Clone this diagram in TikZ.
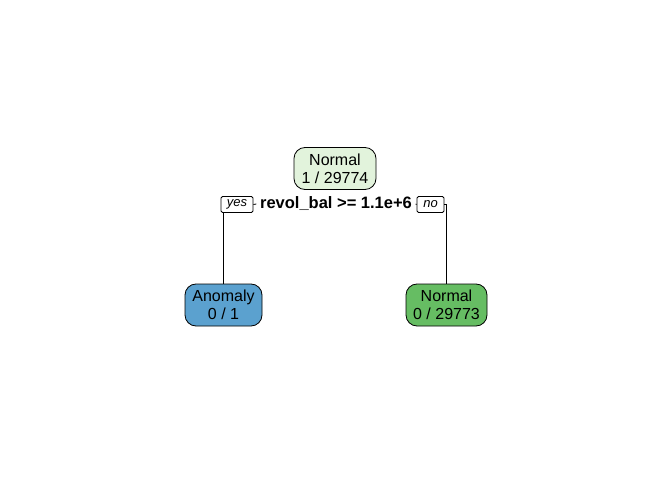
\documentclass[tikz,border=0pt]{standalone}
\usepackage{fontspec}
\setmainfont{Liberation Sans}
\definecolor{rootgreen}{HTML}{E2F3DC}
\definecolor{leafblue}{HTML}{5BA1CF}
\definecolor{leafgreen}{HTML}{66BD63}
\begin{document}
\begin{tikzpicture}[x=1pt,y=1pt,line width=0.8pt,
    leaf/.style={draw,rounded corners=11pt,align=center,inner sep=0pt,
      minimum height=42pt,font=\fontsize{16}{18}\selectfont},
    tag/.style={draw,rounded corners=1.5pt,inner sep=0pt,minimum height=16pt,
      font=\fontsize{13}{14}\selectfont\itshape}]
      \useasboundingbox (0,0) rectangle (672,480);
      \draw
        (335,311.5) node[leaf,fill=rootgreen,minimum width=82pt] (root){Normal\\1 / 29774}
        (336,276) node[font=\fontsize{16.5}{18}\selectfont\bfseries] (split){revol\_bal >= 1.1e+6}
        (237,275.5) node[tag,minimum width=32pt] (yes){yes}
        (430.5,275.5) node[tag,minimum width=27pt] (no){no}
        (223.5,175) node[leaf,fill=leafblue,minimum width=77pt] (anomaly){Anomaly\\0 / 1}
        (446.5,175) node[leaf,fill=leafgreen,minimum width=81pt] (normal){Normal\\0 / 29773};
      \begin{scope}[-]
        \draw (yes.east) to (split.west);
        \draw (split.east) to (no.west);
        \draw (yes.south -| anomaly.north) to (anomaly.north);
        \draw (no.east) -| (normal.north);
      \end{scope}
    \end{tikzpicture}
\end{document}
